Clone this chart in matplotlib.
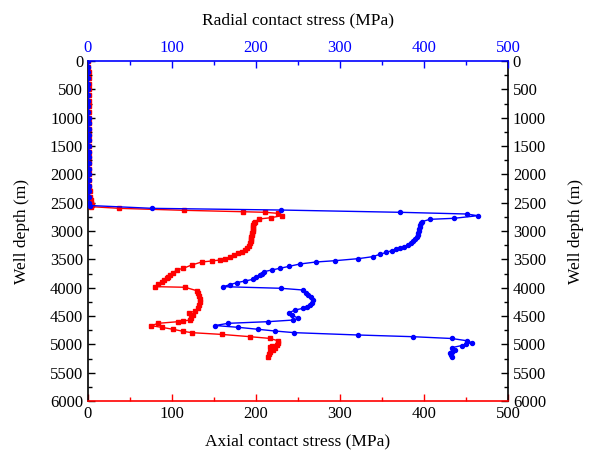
import matplotlib
matplotlib.use("Agg")
import matplotlib.pyplot as plt
from matplotlib.ticker import MultipleLocator

plt.rcParams['font.family'] = ['Liberation Serif', 'DejaVu Serif']
plt.rcParams['mathtext.fontset'] = 'stix'

# Axial contact stress (MPa) vs well depth (m)
axial_depth = [0, 100, 200, 300, 400, 500, 600, 700, 800, 900, 1000, 1100, 1200, 1300,
               1400, 1500, 1600, 1700, 1800, 1900, 2000, 2100, 2200, 2300, 2400, 2450,
               2500, 2540, 2570, 2600, 2635, 2660, 2670, 2688, 2730, 2765, 2788, 2836,
               2859, 2894, 2929, 2965, 3000, 3035, 3071, 3106, 3141, 3176, 3217, 3265,
               3300, 3335, 3367, 3394, 3432, 3464, 3491, 3512, 3529, 3547, 3600, 3658,
               3688, 3740, 3776, 3810, 3835, 3865, 3894, 3935, 3982, 3993, 4053, 4094,
               4147, 4200, 4253, 4306, 4350, 4412, 4447, 4491, 4535, 4571, 4588, 4600,
               4629, 4671, 4700, 4735, 4770, 4794, 4825, 4865, 4895, 4938, 4976, 5012,
               5038, 5047, 5070, 5100, 5130, 5171, 5218]
axial_stress = [0.5, 0.5, 0.6, 0.6, 0.7, 0.7, 0.8, 0.8, 0.9, 0.9, 1.0, 1.0, 1.0, 1.1,
                1.1, 1.2, 1.2, 1.3, 1.3, 1.4, 1.4, 1.5, 1.6, 1.8, 2.0, 3.0,
                4.0, 5.0, 3.0, 37.3, 114.3, 184.9, 210.7, 225.8, 230.6, 217.9, 203.9, 198.8,
                197.6, 197.0, 196.8, 196.4, 196.1, 195.6, 195.2, 194.6, 194.0, 193.5, 192.9, 191.1,
                189.3, 186.9, 183.3, 178.9, 173.8, 169.0, 163.1, 157.1, 147.3, 135.4, 123.5, 113.5,
                105.6, 101.2, 97.6, 95.2, 93.7, 90.5, 87.7, 83.9, 80.0, 115.5, 129.4, 131.3,
                132.5, 133.3, 133.3, 132.5, 131.0, 127.4, 120.2, 125.4, 123.2, 121.4, 113.5, 107.5,
                83.7, 75.0, 87.7, 101.5, 113.1, 123.5, 159.2, 192.9, 216.1, 226.5, 225.6, 224.6,
                219.0, 216.7, 222.6, 220.2, 216.7, 215.5, 214.6]

# Radial contact stress (MPa) vs well depth (m)
radial_depth = [0, 100, 200, 300, 400, 500, 600, 700, 800, 900, 1000, 1100, 1200, 1300,
                1400, 1500, 1600, 1700, 1800, 1900, 2000, 2100, 2200, 2300, 2400, 2500,
                2550, 2600, 2630, 2670, 2700, 2730, 2776, 2794, 2836, 2859, 2894, 2929,
                2965, 3000, 3035, 3071, 3106, 3141, 3176, 3212, 3247, 3277, 3306, 3326,
                3347, 3379, 3411, 3453, 3488, 3524, 3547, 3582, 3623, 3658, 3688, 3718,
                3750, 3776, 3820, 3852, 3882, 3912, 3947, 3982, 4011, 4041, 4100, 4129,
                4173, 4218, 4262, 4306, 4341, 4364, 4394, 4441, 4482, 4541, 4571, 4600,
                4629, 4668, 4700, 4735, 4765, 4794, 4835, 4865, 4897, 4936, 4971, 4994,
                5021, 5059, 5100, 5127, 5148, 5180, 5218]
radial_stress = [0.3, 0.3, 0.3, 0.4, 0.4, 0.4, 0.5, 0.5, 0.5, 0.5, 0.6, 0.6, 0.6, 0.7,
                 0.7, 0.7, 0.8, 0.8, 0.8, 0.9, 0.9, 1.0, 1.0, 1.1, 1.2, 1.5,
                 2.0, 76.5, 229.8, 371.4, 450.8, 463.9, 435.7, 407.1, 397.3, 396.4, 395.8, 395.2,
                 394.6, 394.0, 393.2, 392.3, 391.1, 389.6, 387.5, 384.5, 381.0, 376.2, 371.4, 366.7,
                 361.5, 354.8, 347.6, 338.9, 321.8, 294.0, 271.4, 252.4, 239.6, 228.6, 218.7, 209.5,
                 207.1, 204.8, 200.0, 196.8, 186.9, 177.0, 169.0, 161.0, 229.8, 255.6, 259.5, 262.3,
                 264.9, 267.5, 266.7, 264.3, 260.7, 256.3, 246.4, 239.6, 242.5, 250.4, 244.4, 214.6,
                 167.0, 151.2, 178.9, 202.7, 222.6, 245.6, 321.1, 386.5, 433.0, 450.8, 456.8, 450.0,
                 444.9, 433.0, 436.9, 433.3, 431.0, 432.1, 433.0]

stress_ticks = [0, 100, 200, 300, 400, 500]
depth_ticks = list(range(0, 6001, 500))

RED = '#FF0000'
BLUE = '#0000FF'

fig = plt.figure(figsize=(5.89, 4.53), dpi=100)
ax = fig.add_axes([88/589, 1-401/453, 420/589, 340/453])

ax.plot(axial_stress, axial_depth, color=RED, lw=1.0, marker='s', ms=2.7,
        mec=RED, mfc=RED, zorder=3)
ax.set_xlim(0, 500)
ax.set_ylim(6000, 0)
ax.set_xticks(stress_ticks)
ax.xaxis.set_minor_locator(MultipleLocator(50))
ax.set_yticks(depth_ticks)
ax.yaxis.set_minor_locator(MultipleLocator(250))
ax.tick_params(axis='x', which='both', direction='in', colors=RED, labelcolor='black',
               labelsize=12, top=False)
ax.tick_params(axis='x', which='major', length=5, width=1)
ax.tick_params(axis='x', which='minor', length=3, width=1)
ax.tick_params(axis='y', which='both', direction='in', left=True, right=True,
               labelleft=True, labelright=True, labelsize=12, width=1)
ax.tick_params(axis='y', which='major', length=5)
ax.tick_params(axis='y', which='minor', length=3)
ax.spines['bottom'].set_color(RED)
ax.spines['top'].set_visible(False)
for s in ax.spines.values():
    s.set_linewidth(1.2)
ax.set_xlabel('Axial contact stress (MPa)', fontsize=12.5, labelpad=8)
ax.set_ylabel('Well depth (m)', fontsize=12.5, labelpad=14)

ax2 = ax.twiny()
ax2.plot(radial_stress, radial_depth, color=BLUE, lw=1.0, marker='o', ms=2.9,
         mec=BLUE, mfc=BLUE, zorder=3)
ax2.set_xlim(0, 500)
ax2.set_ylim(6000, 0)
ax2.set_xticks(stress_ticks)
ax2.xaxis.set_minor_locator(MultipleLocator(50))
ax2.tick_params(axis='x', which='both', direction='in', colors=BLUE, labelcolor=BLUE,
                labelsize=12)
ax2.tick_params(axis='x', which='major', length=5, width=1)
ax2.tick_params(axis='x', which='minor', length=3, width=1)
for k in ['bottom', 'left', 'right']:
    ax2.spines[k].set_visible(False)
ax2.spines['top'].set_color(BLUE)
ax2.spines['top'].set_linewidth(1.2)
ax2.set_xlabel('Radial contact stress (MPa)', fontsize=12.5, labelpad=11)

fig.text(576/589, 1-231/453, 'Well depth (m)', rotation=90, fontsize=12.5,
         ha='center', va='center')

fig.savefig('out.png', dpi=100)
